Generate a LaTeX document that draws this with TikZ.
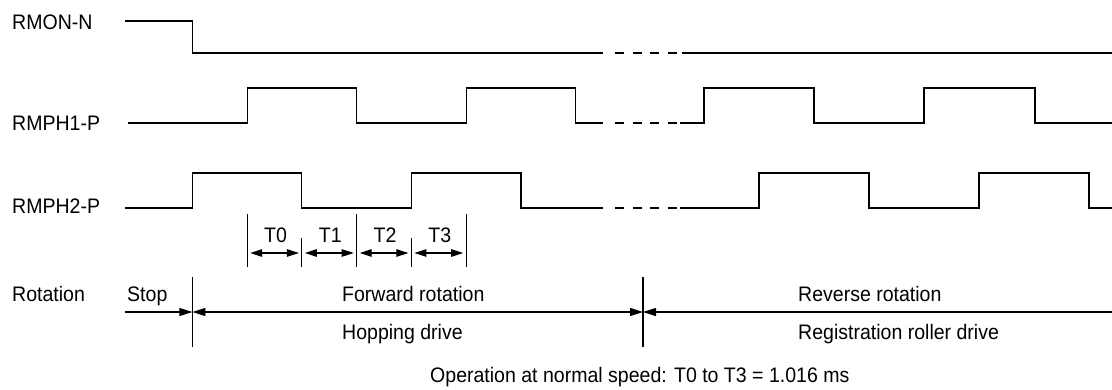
\documentclass[tikz,border=0pt]{standalone}
\usepackage{fontspec}
\setmainfont[FakeStretch=0.93]{Liberation Sans}
\usetikzlibrary{arrows.meta}
\begin{document}
\begin{tikzpicture}[x=1pt,y=-1pt,
  sig/.style={line width=1.1pt, line join=miter},
  gapdash/.style={line width=1.1pt, dash pattern=on 9pt off 8.5pt, dash phase=9pt},
  lbl/.style={inner sep=0pt, font=\fontsize{21}{24}\selectfont},
  tick/.style={line width=1.1pt},
  tip/.style={-{Triangle[length=13pt,width=8pt]}},
  dtip/.style={{Triangle[length=13pt,width=8pt]}-{Triangle[length=13pt,width=8pt]}},
  tdim/.style={{Triangle[length=12pt,width=7.5pt]}-{Triangle[length=12pt,width=7.5pt]}, line width=1.1pt, shorten <=3pt, shorten >=3pt}
]
\useasboundingbox (0,0) rectangle (1112,389);
\fill[white] (0,0) rectangle (1112,389);

% grid of edges
\def\xa{192.4}\def\xb{247.2}\def\xc{301.9}\def\xd{356.7}
\def\xe{411.4}\def\xf{466.2}\def\xg{521.0}\def\xh{575.7}

% labels
\node[lbl, anchor=base west] (lRMON) at (12,29.5) {RMON-N};
\node[lbl, anchor=base west] (lPH1) at (12,130.5) {RMPH1-P};
\node[lbl, anchor=base west] (lPH2) at (12,213.5) {RMPH2-P};

% RMON-N
\draw[sig] (125,21) -- (\xa,21) -- (\xa,53) -- (603,53);
\draw[gapdash] (606.5,53) -- (677,53);
\draw[sig] (682,53) -- (1112,53);

% RMPH1-P
\draw[sig] (128,123) -- (\xb,123) -- (\xb,88) -- (\xd,88) -- (\xd,123)
  -- (\xf,123) -- (\xf,88) -- (\xh,88) -- (\xh,123) -- (603,123);
\draw[gapdash] (606.5,123) -- (677,123);
\draw[sig] (680,123) -- (704,123) -- (704,88) -- (814,88) -- (814,123)
  -- (924,123) -- (924,88) -- (1035,88) -- (1035,123) -- (1112,123);

% RMPH2-P
\draw[sig] (125,208) -- (\xa,208) -- (\xa,173) -- (\xc,173) -- (\xc,208)
  -- (\xe,208) -- (\xe,173) -- (\xg,173) -- (\xg,208) -- (603,208);
\draw[gapdash] (606.5,208) -- (677,208);
\draw[sig] (680,208) -- (759,208) -- (759,173) -- (869,173) -- (869,208)
  -- (979,208) -- (979,173) -- (1089,173) -- (1089,208) -- (1112,208);

% T ticks
\coordinate (k1t) at (\xb,214); \coordinate (k1b) at (\xb,267);
\coordinate (k2t) at (\xc,238); \coordinate (k2b) at (\xc,267);
\coordinate (k3t) at (\xd,214); \coordinate (k3b) at (\xd,267);
\coordinate (k4t) at (\xe,238); \coordinate (k4b) at (\xe,267);
\coordinate (k5t) at (\xf,214); \coordinate (k5b) at (\xf,267);
\foreach \i in {1,...,5} { \draw[tick] (k\i t) -- (k\i b); }

\coordinate (a1) at (\xb,253);
\coordinate (a2) at (\xc,253);
\coordinate (a3) at (\xd,253);
\coordinate (a4) at (\xe,253);
\coordinate (a5) at (\xf,253);
\draw[tdim] (a1) -- (a2);
\draw[tdim] (a2) -- (a3);
\draw[tdim] (a3) -- (a4);
\draw[tdim] (a4) -- (a5);

\node[lbl, anchor=base] (T0) at ({(\xb+\xc)/2+1},242) {T0};
\node[lbl, anchor=base] (T1) at ({(\xc+\xd)/2+1},242) {T1};
\node[lbl, anchor=base] (T2) at ({(\xd+\xe)/2+1},242) {T2};
\node[lbl, anchor=base] (T3) at ({(\xe+\xf)/2+1},242) {T3};

% Rotation line
\coordinate (r0) at (125,312);
\coordinate (r1) at (\xa,312);
\coordinate (r2) at (643,312);
\coordinate (r3) at (1112,312);
\draw[tick] (\xa,277) -- (\xa,347);
\draw[tick] (643,277) -- (643,347);
\draw[tick, tip] (r0) -- (r1);
\draw[tick, dtip] (r1) -- (r2);
\draw[tick, {Triangle[length=13pt,width=8pt]}-] (r2) -- (r3);

\node[lbl, anchor=base west] (lRot) at (12,301.5) {Rotation};
\node[lbl, anchor=base west] (lStop) at (127,301.5) {Stop};
\node[lbl, anchor=base west] (lFwd) at (342,301.5) {Forward rotation};
\node[lbl, anchor=base west] (lHop) at (342,339.5) {Hopping drive};
\node[lbl, anchor=base west] (lRev) at (798,301.5) {Reverse rotation};
\node[lbl, anchor=base west] (lReg) at (798,339.5) {Registration roller drive};
\node[lbl, anchor=base west] (lOp) at (430,382) {Operation at normal speed: T0 to T3 = 1.016 ms};
\end{tikzpicture}
\end{document}
